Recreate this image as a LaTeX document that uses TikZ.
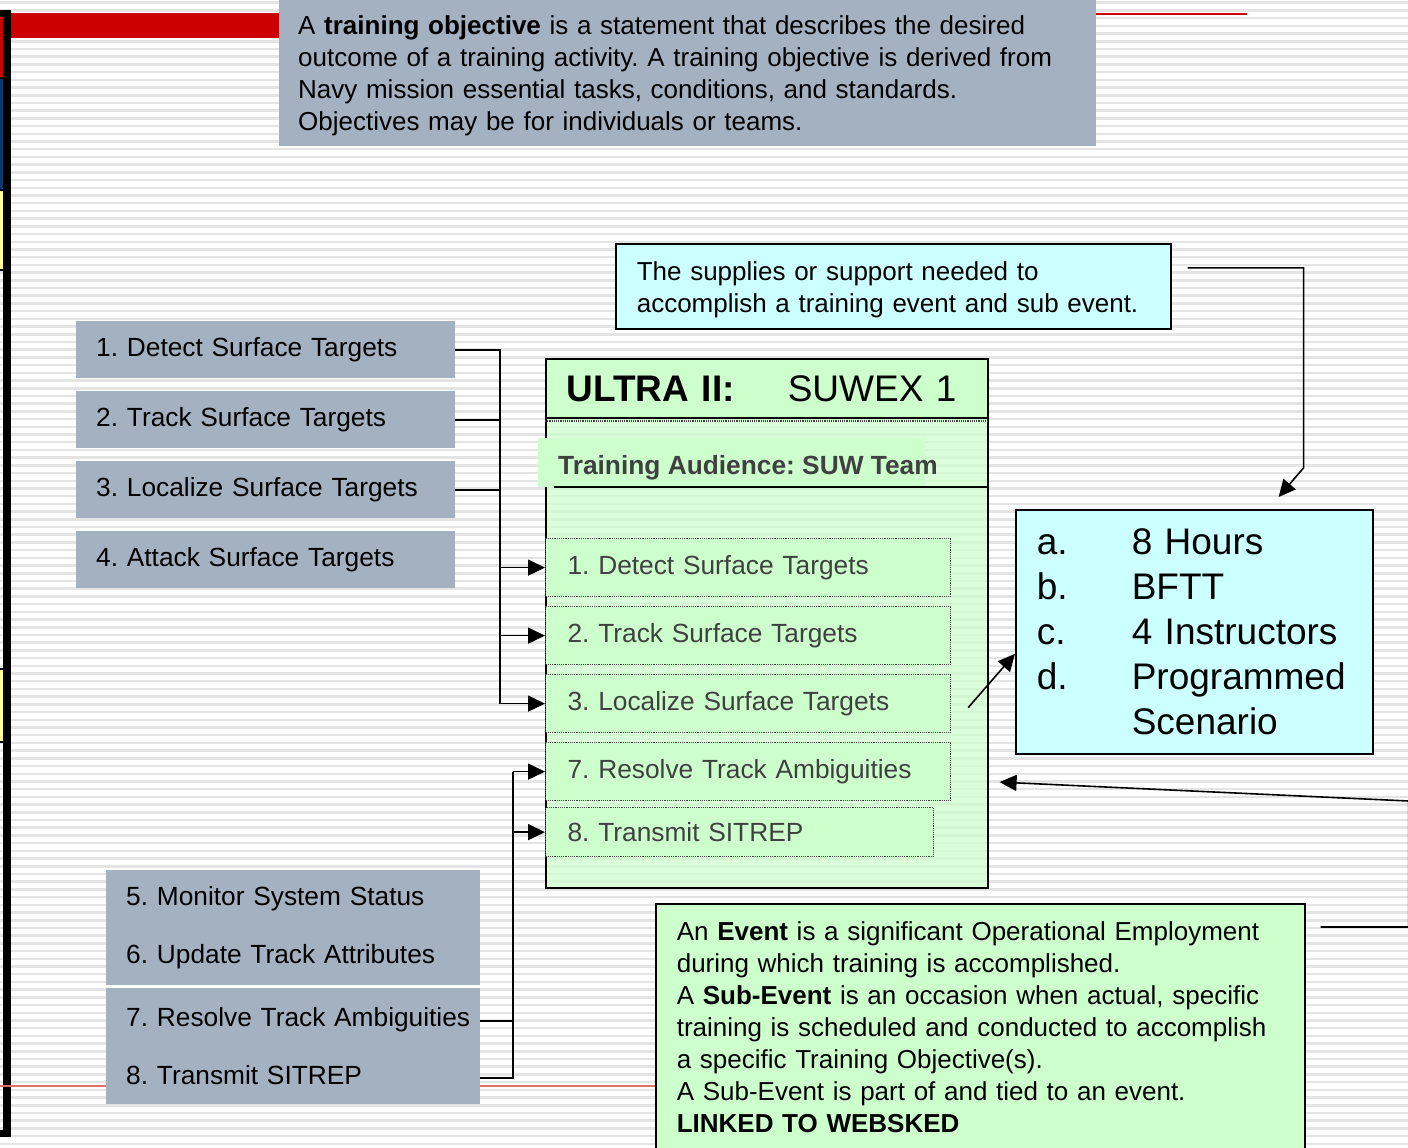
\documentclass[tikz,border=0pt]{standalone}
\usepackage{fontspec}
\setmainfont{Liberation Sans}
\usetikzlibrary{arrows.meta}

\definecolor{slate}{RGB}{163,177,193}
\definecolor{mint}{RGB}{204,255,204}
\definecolor{aqua}{RGB}{204,255,255}
\definecolor{flag}{RGB}{204,0,0}
\definecolor{navy}{RGB}{10,58,110}
\definecolor{butter}{RGB}{255,255,153}
\definecolor{stripe}{RGB}{228,228,228}
\definecolor{softred}{RGB}{224,110,110}
\definecolor{ink}{RGB}{64,64,64}

\newcommand\bodysize{\fontsize{26.3pt}{32pt}\selectfont}
\newcommand\notesize{\fontsize{26pt}{32pt}\selectfont}
\newcommand\listsize{\fontsize{37pt}{45pt}\selectfont}

\begin{document}
\frenchspacing
\hyphenpenalty=10000
\exhyphenpenalty=10000
\begin{tikzpicture}[x=1pt,y=-1pt,
  wire/.style={draw=black,line width=1.6pt},
  feed/.style={wire,-{Triangle[length=17pt,width=16pt]}},
  slab/.style={fill=slate,anchor=north west,inner xsep=20pt,inner ysep=0pt,align=left,font=\bodysize},
  sbox/.style={fill=mint,draw=ink,densely dotted,line width=1.2pt,anchor=north west,
               inner xsep=22pt,inner ysep=0pt,minimum height=58pt,align=left,font=\bodysize,text=ink},
  card/.style={draw=black,line width=1.6pt,anchor=north west,inner xsep=21pt,align=left}
]
\clip (0,0) rectangle (1408,1148);

% striped backdrop
\fill[white] (0,0) rectangle (1408,1148);
\foreach \k in {0,...,149} \fill[stripe] (0,{\k*7.71+1.5}) rectangle (1408,{\k*7.71+4});

% left frame with coloured tabs
\fill[black] (3,10) rectangle (11,1137);
\fill[black] (0,10) rectangle (3,271);
\fill[flag] (0,17) rectangle (2.5,77);
\fill[navy] (0,79) rectangle (2.5,189);
\fill[butter] (0,191) rectangle (2.5,269);
\fill[black] (0,668) rectangle (3,743);
\fill[butter] (0,670) rectangle (2.5,741);
\fill[black] (0,1130) rectangle (11,1137);

% red accent bars
\fill[flag] (11,13) rectangle (279,38);
\fill[flag] (1096,13) rectangle (1247,15.5);
\draw[softred,line width=1.5pt] (0,1086) -- (655,1086);

% definition of a training objective
\node[slab,text width=779pt,inner xsep=19pt,minimum height=146pt,font=\notesize] (obj) at (279,0)
  {\rule{0pt}{23pt}A \textbf{training objective} is a statement that describes the desired\\
   outcome of a training activity. A training objective is derived from\\
   Navy mission essential tasks, conditions, and standards.\\
   Objectives may be for individuals or teams.};

% task list, upper left
\node[slab,text width=339pt,minimum height=57pt] (l1) at (76,321) {1. Detect Surface Targets};
\node[slab,text width=339pt,minimum height=57pt] (l2) at (76,391) {2. Track Surface Targets};
\node[slab,text width=339pt,minimum height=57pt] (l3) at (76,461) {3. Localize Surface Targets};
\node[slab,text width=339pt,minimum height=57pt] (l4) at (76,531) {4. Attack Surface Targets};

% task list, lower left
\node[slab,text width=334pt,minimum height=115pt] (bA) at (106,870)
  {\mbox{5. Monitor System Status}\\[26pt]\mbox{6. Update Track Attributes}};
\node[slab,text width=334pt,minimum height=116pt] (bB) at (106,988)
  {\mbox{7. Resolve Track Ambiguities}\\[26pt]\mbox{8. Transmit SITREP}};

% event card
\node[draw=black,line width=1.6pt,fill=mint,fill opacity=0.72,minimum width=442pt,
      minimum height=529pt,anchor=north west,inner sep=0pt] (panel) at (545,358) {};
\node[card,fill=mint,minimum height=59pt,text width=400pt,font=\listsize] (hdr) at (545,358)
  {\makebox[221pt][l]{\textbf{ULTRA II:}}SUWEX 1};
\draw[ink,densely dotted,line width=1.2pt] ([yshift=-63pt]panel.north west) -- ([yshift=-63pt]panel.north east);
\fill[mint] (538,438) rectangle (925,487);
\node[anchor=base west,inner sep=0pt,font=\bfseries\bodysize,text=ink] (aud) at (558,474.5) {Training Audience: SUW Team};
\coordinate (audRule) at (554,487);
\draw[black,line width=1.4pt] (audRule) -- (audRule -| panel.east);

\node[sbox,text width=361pt] (s1) at (545,538) {1. Detect Surface Targets};
\node[sbox,text width=361pt] (s2) at (545,606) {2. Track Surface Targets};
\node[sbox,text width=361pt] (s3) at (545,674) {3. Localize Surface Targets};
\node[sbox,text width=361pt] (s7) at (545,742) {7. Resolve Track Ambiguities};
\node[sbox,text width=344pt,minimum height=49pt] (s8) at (545,807) {8. Transmit SITREP};

% resources
\node[card,fill=aqua,minimum height=85pt,text width=513pt,font=\notesize] (sup) at (615,243)
  {\rule{0pt}{25pt}The supplies or support needed to\\ accomplish a training event and sub event.};
\node[card,fill=aqua,minimum height=244pt,text width=315pt,font=\listsize] (res) at (1015,509)
  {\makebox[95pt][l]{a.}8 Hours\\
   \makebox[95pt][l]{b.}BFTT\\
   \makebox[95pt][l]{c.}4 Instructors\\
   \makebox[95pt][l]{d.}Programmed\\
   \hspace*{95pt}Scenario};

% event / sub-event definition
\node[card,fill=mint,inner ysep=18pt,text width=607pt,font=\notesize] (event) at (655,903)
  {An \textbf{Event} is a significant Operational Employment\\
   during which training is accomplished.\\
   A \textbf{Sub-Event} is an occasion when actual, specific\\
   training is scheduled and conducted to accomplish\\
   a specific Training Objective(s).\\
   A Sub-Event is part of and tied to an event.\\
   \textbf{LINKED TO WEBSKED}};

% connectors from the upper task list
\coordinate (busL) at (500,0);
\draw[wire] (l1.east) -- (l1.east -| busL) -- (s3.west -| busL);
\draw[wire] (l2.east) -- (l2.east -| busL);
\draw[wire] (l3.east) -- (l3.east -| busL);
\draw[feed] (s1.west -| busL) -- (s1.west);
\draw[feed] (s2.west -| busL) -- (s2.west);
\draw[feed] (s3.west -| busL) -- (s3.west);

% connectors from the lower task list
\coordinate (busB) at (513,0);
\path ([yshift=25pt]bB.east) coordinate (b7) ([yshift=-32pt]bB.east) coordinate (b8);
\draw[wire] (b7) -- (b7 -| busB);
\draw[wire] (b8) -- (b8 -| busB) -- (s7.west -| busB);
\draw[feed] (s7.west -| busB) -- (s7.west);
\draw[feed] (s8.west -| busB) -- (s8.west);

% callouts on the right
\coordinate (supTail) at ([xshift=16pt,yshift=18.5pt]sup.east);
\coordinate (resHead) at ([xshift=-95pt,yshift=12pt]res.north east);
\draw[feed] (supTail) -- ++(116,0) -- ++(0,200) -- (resHead);

\coordinate (s3Tail) at ([xshift=17pt,yshift=-4pt]s3.east);
\coordinate (resSide) at ([yshift=-22pt]res.west);
\draw[feed] (s3Tail) -- (resSide);

\coordinate (evTail) at ([xshift=15pt,yshift=-24pt]event.north east);
\path (s7.east -| panel.east) ++(11,10.5) coordinate (evHead);
\draw[feed] (evTail) -- ++(88,0) -- ++(0,-126) -- (evHead);
\end{tikzpicture}
\end{document}
